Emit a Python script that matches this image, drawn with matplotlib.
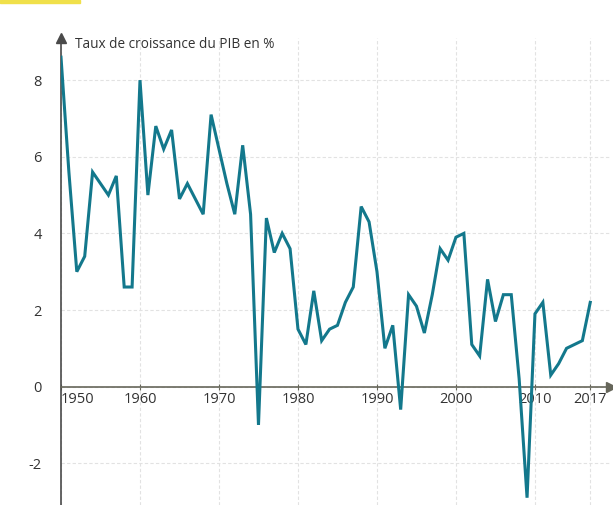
import matplotlib.pyplot as plt
from matplotlib.patches import Rectangle

#===Data===#
years = list(range(1950, 2018))
growth = [8.6, 5.6, 3.0, 3.4, 5.6, 5.3, 5.0, 5.5, 2.6, 2.6,
          8.0, 5.0, 6.8, 6.2, 6.7, 4.9, 5.3, 4.9, 4.5, 7.1,
          6.2, 5.3, 4.5, 6.3, 4.5, -1.0, 4.4, 3.5, 4.0, 3.6,
          1.5, 1.1, 2.5, 1.2, 1.5, 1.6, 2.2, 2.6, 4.7, 4.3,
          3.0, 1.0, 1.6, -0.6, 2.4, 2.1, 1.4, 2.4, 3.6, 3.3,
          3.9, 4.0, 1.1, 0.8, 2.8, 1.7, 2.4, 2.4, 0.2, -2.9,
          1.9, 2.2, 0.3, 0.6, 1.0, 1.1, 1.2, 2.2]
x_ticks = [1950, 1960, 1970, 1980, 1990, 2000, 2010, 2017]
y_ticks = [-2, 0, 2, 4, 6, 8]
title = 'Taux de croissance du PIB en %'

LINE_COLOR = '#13788c'
AXIS_COLOR = '#4a4a4a'
TEXT_COLOR = '#333333'

plt.rcParams['font.family'] = ['Open Sans', 'DejaVu Sans']

fig = plt.figure(figsize=(6.13, 5.05), dpi=100)
ax = fig.add_axes([61 / 613, 0, 549 / 613, 467 / 505])

ax.plot(years, growth, color=LINE_COLOR, lw=2.2, solid_joinstyle='miter', zorder=3)

ax.set_xlim(1950, 2019.5)
ax.set_ylim(-3.09, 9.1)

ax.set_xticks(x_ticks)
ax.set_yticks(y_ticks)
ax.grid(True, color='#e2e2e2', linestyle=(0, (3, 2)), lw=0.8)

for side in ['top', 'right']:
    ax.spines[side].set_visible(False)
ax.spines['bottom'].set_position(('data', 0))
ax.spines['bottom'].set_color('#66665a')
ax.spines['bottom'].set_linewidth(1.2)
ax.spines['left'].set_color(AXIS_COLOR)
ax.spines['left'].set_linewidth(1.2)

ax.tick_params(axis='x', direction='inout', length=4, width=0.8, color='#66665a',
               labelsize=10.5, labelcolor=TEXT_COLOR, pad=2)
ax.tick_params(axis='y', length=0, labelsize=10.5, labelcolor=TEXT_COLOR, pad=14)
ax.set_yticklabels([str(v) for v in y_ticks])
first = ax.get_xticklabels()[0]
first.set_horizontalalignment('left')

# axis arrows
ax.plot([1950], [9.1], marker='^', markersize=7, color=AXIS_COLOR, clip_on=False, zorder=4)
ax.plot([2019.6], [0], marker='>', markersize=7, color='#66665a', clip_on=False, zorder=4)

fig.text(75 / 613, 1 - 45 / 505, title, fontsize=9.8, color=TEXT_COLOR, va='center', ha='left')

fig.patches.append(Rectangle((0, 1 - 3 / 505), 80 / 613, 3 / 505, transform=fig.transFigure,
                             color='#f0e04a', zorder=0))

fig.savefig('out.png', dpi=100)
